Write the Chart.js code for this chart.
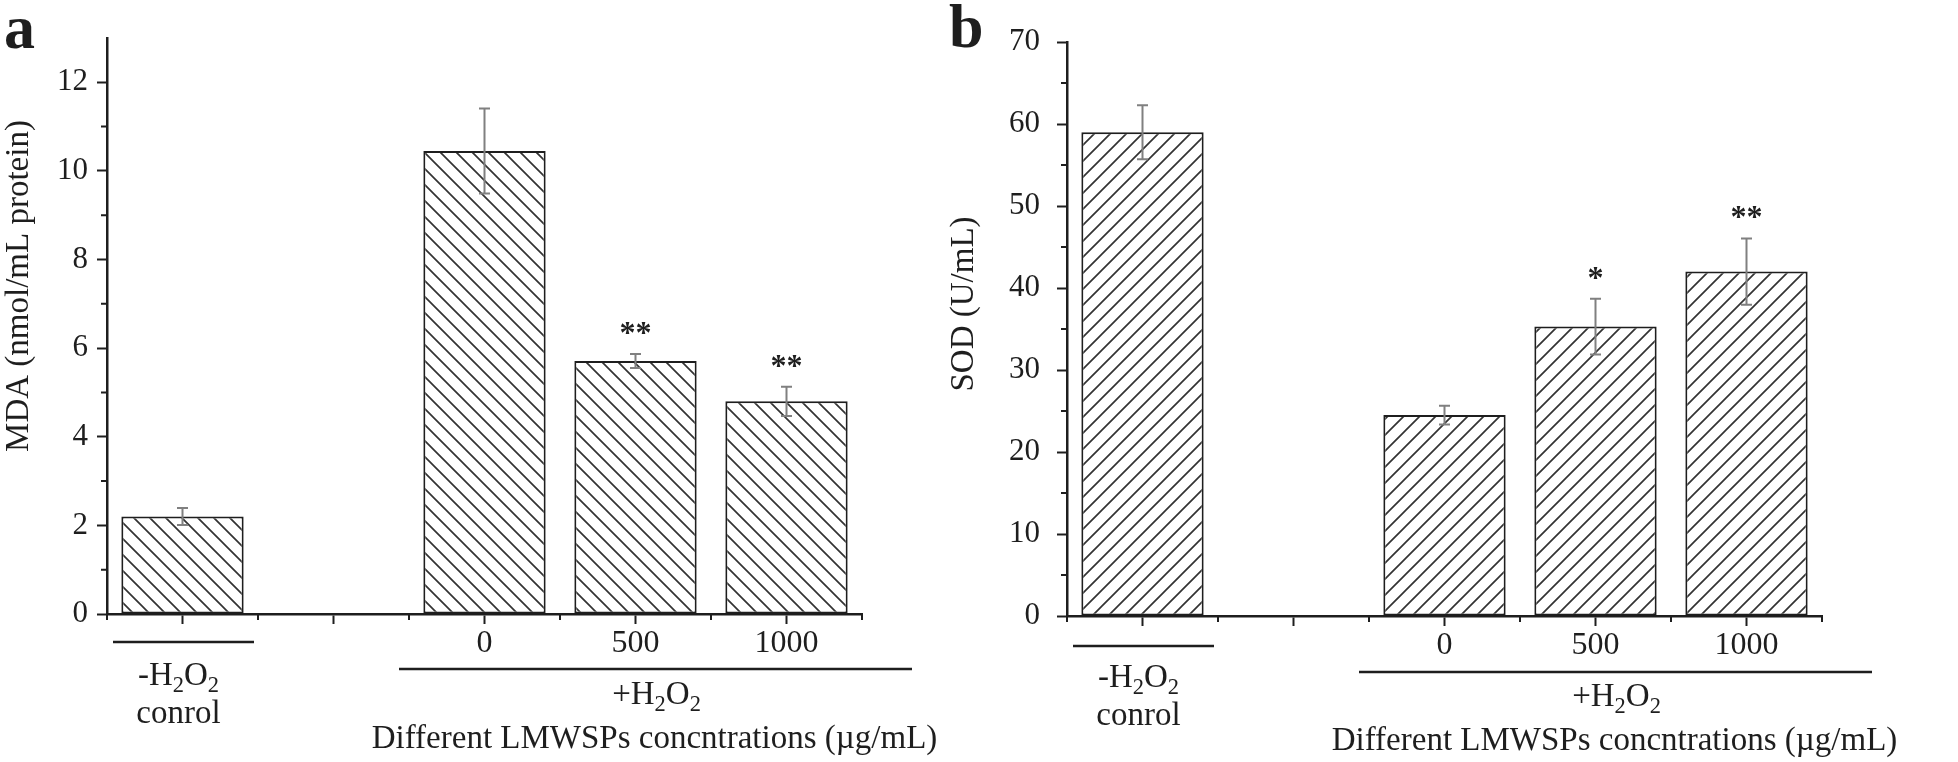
<!DOCTYPE html>
<html>
<head>
<meta charset="utf-8">
<title>MDA / SOD</title>
<script src="https://cdn.jsdelivr.net/npm/chart.js@4.4.1/dist/chart.umd.min.js"></script>
<style>
    html, body { margin: 0; padding: 0; background: #fff; }
    #wrap { position: relative; width: 1958px; height: 762px; overflow: hidden; }
    canvas { position: absolute; top: 0; }
    #mdaChart { left: 0; }
    #sodChart { left: 940px; }
</style>
</head>
<body>
<div id="wrap">
    <canvas id="mdaChart" width="1000" height="762"></canvas>
    <canvas id="sodChart" width="1018" height="762"></canvas>
</div>
<script>
// ---- data ----
const categories = ['control', 'gap', '0', '500', '1000'];
const concLabels = ['', '', '0', '500', '1000'];

const mdaValues = [2.2, null, 10.45, 5.71, 4.8];
const mdaErrors = [0.19, null, 0.96, 0.16, 0.33];
const mdaStars = ['', '', '', '**', '**'];

const sodValues = [59.0, null, 24.5, 35.3, 42.0];
const sodErrors = [3.3, null, 1.15, 3.4, 4.05];
const sodStars = ['', '', '', '*', '**'];

const controlLabel = ['-H2O2', 'conrol'];
const treatedLabel = '+H2O2';
const xTitle = 'Different LMWSPs concntrations (\u00B5g/mL)';

const SERIF = '"Liberation Serif", "Times New Roman", serif';
const INK = '#1e1e1e';

/**
 * 斜线填充
 */
function hatch(dir) {
    const p = 16;
    const c = document.createElement('canvas');
    c.width = p; c.height = p;
    const g = c.getContext('2d');
    g.fillStyle = '#fff';
    g.fillRect(0, 0, p, p);
    g.strokeStyle = '#333';
    g.lineWidth = 1.7;
    g.beginPath();
    if (dir === 'down') {
        g.moveTo(-2, -2); g.lineTo(p + 2, p + 2);
        g.moveTo(-2, p - 2); g.lineTo(2, p + 2);
        g.moveTo(p - 2, -2); g.lineTo(p + 2, 2);
    } else {
        g.moveTo(-2, p + 2); g.lineTo(p + 2, -2);
        g.moveTo(-2, 2); g.lineTo(2, -2);
        g.moveTo(p - 2, p + 2); g.lineTo(p + 2, p - 2);
    }
    g.stroke();
    return g.createPattern(c, 'repeat');
}

// text with chemical subscripts (digit after a letter)
function richText(ctx, str, cx, base, size) {
    const parts = [];
    for (let i = 0; i < str.length; i++) {
        const ch = str[i];
        const sub = /[0-9]/.test(ch) && i > 0 && /[A-Za-z]/.test(str[i - 1]);
        parts.push([ch, sub]);
    }
    const subSize = size * 0.68;
    let w = 0;
    parts.forEach(([ch, sub]) => {
        ctx.font = `${sub ? subSize : size}px ${SERIF}`;
        w += ctx.measureText(ch).width;
    });
    let x = cx - w / 2;
    ctx.textAlign = 'left';
    ctx.textBaseline = 'alphabetic';
    parts.forEach(([ch, sub]) => {
        ctx.font = `${sub ? subSize : size}px ${SERIF}`;
        ctx.fillText(ch, x, sub ? base + size * 0.2 : base);
        x += ctx.measureText(ch).width;
    });
}

const decor = {
    id: 'decor',
    afterDatasetsDraw(chart) {
        const { ctx, scales: { y } } = chart;
        const ds = chart.data.datasets[0];
        const meta = chart.getDatasetMeta(0);
        ctx.save();
        meta.data.forEach((bar, i) => {
            const v = ds.data[i], e = ds.errors[i];
            if (v == null) return;
            const top = y.getPixelForValue(v + e);
            const bot = y.getPixelForValue(v - e);
            ctx.strokeStyle = '#808080';
            ctx.lineWidth = 2;
            ctx.beginPath();
            ctx.moveTo(bar.x, top); ctx.lineTo(bar.x, bot);
            ctx.moveTo(bar.x - 5.5, top); ctx.lineTo(bar.x + 5.5, top);
            ctx.moveTo(bar.x - 5.5, bot); ctx.lineTo(bar.x + 5.5, bot);
            ctx.stroke();
            const s = ds.stars[i];
            if (s) {
                ctx.fillStyle = INK;
                ctx.font = `bold 32px ${SERIF}`;
                ctx.textAlign = 'center';
                ctx.textBaseline = 'alphabetic';
                const m = ctx.measureText(s);
                const cy = top - 26;
                ctx.fillText(s, bar.x, cy + (m.actualBoundingBoxAscent - m.actualBoundingBoxDescent) / 2);
            }
        });
        ctx.restore();
    },
    afterDraw(chart, args, o) {
        const { ctx, chartArea: a, scales: { x, y } } = chart;
        ctx.save();
        ctx.strokeStyle = INK;
        ctx.lineWidth = 2;
        ctx.beginPath();
        // minor ticks
        for (let v = o.minor; v < y.max; v += o.minor * 2) {
            const py = y.getPixelForValue(v);
            ctx.moveTo(a.left - 6, py); ctx.lineTo(a.left, py);
        }
        const n = categories.length;
        const edge = i => i === 0 ? a.left : i === n ? a.right
            : (x.getPixelForValue(i - 1) + x.getPixelForValue(i)) / 2;
        for (let i = 0; i <= n; i++) {
            ctx.moveTo(edge(i), a.bottom); ctx.lineTo(edge(i), a.bottom + 6);
        }
        ctx.stroke();

        // group lines
        ctx.lineWidth = 2.5;
        ctx.beginPath();
        ctx.moveTo(edge(0) + 6, a.bottom + o.line1); ctx.lineTo(edge(1) - 4, a.bottom + o.line1);
        ctx.moveTo(edge(2) - 10, a.bottom + o.line2); ctx.lineTo(a.right + 50, a.bottom + o.line2);
        ctx.stroke();

        ctx.fillStyle = INK;
        const cx0 = x.getPixelForValue(0) - 4;
        richText(ctx, controlLabel[0], cx0, a.bottom + 71, 33);
        richText(ctx, controlLabel[1], cx0, a.bottom + 109, 33);
        const cxT = x.getPixelForValue(3) + 21;
        richText(ctx, treatedLabel, cxT, a.bottom + 90, 33);
        ctx.font = `33px ${SERIF}`;
        ctx.textAlign = 'center';
        ctx.fillText(xTitle, cxT - 2, a.bottom + 134);

        // y title
        ctx.save();
        ctx.translate(o.yTitleX, o.yTitleY);
        ctx.rotate(-Math.PI / 2);
        ctx.textAlign = 'center';
        ctx.textBaseline = 'middle';
        ctx.font = `33px ${SERIF}`;
        ctx.fillText(o.yTitle, 0, 0);
        ctx.restore();

        // panel letter
        ctx.font = `bold 62px ${SERIF}`;
        ctx.textAlign = 'left';
        ctx.textBaseline = 'alphabetic';
        ctx.fillText(o.letter, o.letterX, o.letterY);
        ctx.restore();
    }
};

function makeChart(id, cfg) {
    return new Chart(document.getElementById(id), {
        type: 'bar',
        data: {
            labels: categories,
            datasets: [{
                data: cfg.values,
                errors: cfg.errors,
                stars: cfg.stars,
                backgroundColor: hatch(cfg.dir),
                borderColor: INK,
                borderWidth: 2,
                borderSkipped: false,
                barPercentage: 0.81,
                categoryPercentage: 1
            }]
        },
        options: {
            responsive: false,
            animation: false,
            layout: { padding: cfg.padding },
            plugins: {
                legend: { display: false },
                tooltip: { enabled: false },
                decor: cfg.decor
            },
            scales: {
                x: {
                    offset: true,
                    afterFit: s => { s.height = cfg.xHeight; },
                    border: { display: true, color: INK, width: 2.5 },
                    grid: { display: true, offset: false, drawOnChartArea: false, drawTicks: true,
                            tickLength: 10, tickColor: INK, tickWidth: 2 },
                    ticks: {
                        autoSkip: false, maxRotation: 0, padding: 0, color: INK,
                        font: { family: SERIF, size: 32 },
                        callback: (v, i) => concLabels[i]
                    }
                },
                y: {
                    min: 0, max: cfg.max,
                    afterFit: s => { s.width = cfg.yWidth; },
                    border: { display: true, color: INK, width: 2.5 },
                    grid: { display: true, drawOnChartArea: false, drawTicks: true,
                            tickLength: 10, tickColor: INK, tickWidth: 2 },
                    ticks: {
                        stepSize: cfg.step, includeBounds: false, padding: cfg.tickPad, color: INK,
                        font: { family: SERIF, size: 31 }
                    }
                }
            }
        },
        plugins: [decor]
    });
}

makeChart('mdaChart', {
    values: mdaValues, errors: mdaErrors, stars: mdaStars, dir: 'down',
    max: 13, step: 2, tickPad: 9,
    padding: { left: 0, top: 38, right: 138, bottom: 0 },
    yWidth: 107, xHeight: 148,
    decor: { minor: 1, line1: 28, line2: 55, yTitle: 'MDA (nmol/mL protein)',
             yTitleX: 19, yTitleY: 286, letter: 'a', letterX: 4, letterY: 48 }
});

makeChart('sodChart', {
    values: sodValues, errors: sodErrors, stars: sodStars, dir: 'up',
    max: 70, step: 10, tickPad: 17,
    padding: { left: 0, top: 42, right: 136, bottom: 0 },
    yWidth: 127, xHeight: 146,
    decor: { minor: 5, line1: 30, line2: 56, yTitle: 'SOD (U/mL)',
             yTitleX: 24, yTitleY: 304, letter: 'b', letterX: 9, letterY: 47 }
});
</script>
</body>
</html>
